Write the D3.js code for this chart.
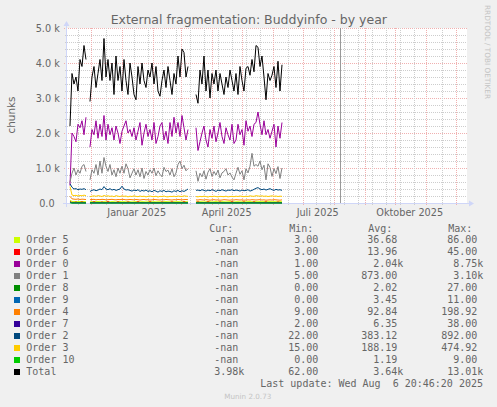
<!DOCTYPE html>
<html>
<head>
<meta charset="utf-8">
<script src="https://cdn.jsdelivr.net/npm/d3@7"></script>
<style>
    html, body { margin: 0; padding: 0; background: #f0f0f0; }
    svg { display: block; }
    text { font-family: "DejaVu Sans", sans-serif; fill: #666; }
    text.mono { font-family: "DejaVu Sans Mono", monospace; font-size: 10px; }
</style>
</head>
<body>
<svg id="chart" width="497" height="407"></svg>
<script>
// one sample every 2 days, first one on 2024-11-10
let firstSample = new Date(2024, 10, 10, 7)
let stepDays = 2

let total = [
    2200, 3700, 3400, 3600, 3200, 4100, 3900, 4500, 4100, null,
    2900, 3600, 3900, 3300, 3700, 4100, 3500, 4700, 3600, 4100,
    3500, 4000, 3100, 4200, 3500, 3900, 3200, 4100, 3500, 3100,
    4000, 3600, 3100, 2950, 3900, 3400, 4000, 3500, 3300, 3800,
    3600, 4000, 3400, 3900, 3200, 3050, 3500, 3800, 3300, 3900,
    3500, 3100, 3700, 3400, 4200, 3600, 4400, 4300, 3600, 3900,
    null, null, null,
    3100, 2850, 3800, 3400, 4200, 3200, 3800, 3000, 3700, 3400,
    3800, 3200, 3700, 3400, 3100, 3600, 3300, 3800, 3500, 3200,
    3700, 3100, 3900, 3500, 3200, 3850, 3900, 3650, 4100, 3750,
    4500, 4450, 3900, 4200, 3600, 2950, 3700, 3500, 3650, 3900,
    3300, 4050, 3200, 3950
]
let order0 = [
    500, 2000, 1900, 1750, 2250, 2150, 2350, 1950, 2450, null,
    1600, 2100, 1950, 2350, 1850, 2250, 1900, 2500, 1800, 2250,
    1950, 2150, 1800, 2200, 2000, 1700, 2050, 2200, 2350, 2000,
    2100, 1900, 2150, 1800, 2050, 2300, 1650, 2000, 2250, 1900,
    2100, 1800, 2300, 1700, 1900, 2200, 2300, 1800, 2050, 1700,
    2300, 1900, 2450, 2000, 2300, 1900, 2500, 2150, 1800, 2100,
    null, null, null,
    2150, 1500, 1750, 2000, 2200, 1800, 1600, 2100, 1850, 2200,
    1750, 2000, 2300, 1900, 1700, 2150, 1950, 1800, 2250, 1700,
    1800, 2250, 1950, 2100, 1650, 2350, 2050, 2200, 1900, 2250,
    2300, 2600, 2250, 1950, 2350, 1950, 2100, 1850, 2050, 2250,
    1600, 2200, 1850, 2300
]
let order1 = [
    600, 850, 1000, 800, 950, 850, 1050, 1100, 900, null,
    660, 950, 850, 1100, 800, 1200, 850, 1300, 1050, 900,
    1100, 800, 950, 750, 1000, 850, 1050, 850, 1120, 980,
    720, 850, 980, 800, 950, 750, 1000, 700, 900, 800,
    950, 850, 1000, 780, 920, 820, 750, 1020, 900, 940,
    800, 980, 750, 860, 1100, 1200, 980, 1080, 920, 980,
    null, null, null,
    920, 620, 850, 750, 920, 680, 880, 980, 760, 900,
    800, 940, 720, 860, 900, 980, 800, 860, 740, 660,
    850, 1020, 820, 920, 660, 980, 860, 1050, 1420, 1050,
    1100, 1050, 1200, 950, 1080, 660, 1120, 1020, 760, 980,
    840, 1040, 700, 1000
]
let order2 = [
    550, 450, 400, 410, 380, 400, 390, 410, 380, null,
    330, 360, 380, 350, 370, 400, 380, 470, 400, 380,
    410, 370, 390, 360, 380, 400, 480, 400, 370, 380,
    360, 340, 370, 350, 380, 330, 360, 340, 370, 330,
    350, 320, 360, 340, 310, 350, 330, 360, 320, 340,
    330, 310, 350, 330, 360, 320, 350, 330, 360, 400,
    null, null, null,
    360, 370, 350, 380, 360, 340, 370, 350, 380, 360,
    330, 370, 350, 380, 360, 340, 370, 360, 380, 350,
    370, 360, 340, 370, 350, 360, 380, 340, 360, 390,
    420, 440, 400, 380, 400, 370, 390, 410, 380, 360,
    390, 370, 380, 360
]
let order3 = [
    470, 230, 210, 220, 200, 215, 205, 225, 210, null,
    180, 195, 205, 190, 210, 200, 185, 215, 195, 205,
    190, 200, 180, 210, 195, 185, 205, 190, 200, 175,
    195, 185, 205, 190, 180, 200, 185, 195, 175, 190,
    200, 185, 180, 195, 170, 190, 185, 200, 180, 175,
    190, 185, 195, 180, 200, 190, 185, 205, 195, 190,
    null, null, null,
    185, 175, 190, 180, 195, 185, 170, 190, 180, 195,
    185, 175, 190, 185, 180, 195, 175, 185, 190, 180,
    195, 185, 200, 190, 180, 195, 185, 205, 195, 190,
    210, 200, 195, 205, 190, 200, 185, 195, 205, 190,
    200, 185, 195, 190
]
let order4 = [
    190, 120, 110, 105, 115, 100, 110, 105, 100, null,
    95, 100, 105, 90, 100, 95, 105, 100, 90, 95,
    100, 105, 95, 90, 100, 95, 105, 100, 90, 95,
    100, 95, 90, 100, 95, 85, 95, 100, 90, 95,
    85, 90, 100, 95, 90, 85, 95, 90, 100, 95,
    90, 85, 95, 90, 100, 95, 90, 95, 100, 95,
    null, null, null,
    90, 85, 95, 90, 85, 95, 90, 80, 90, 95,
    85, 90, 80, 85, 95, 90, 85, 80, 90, 85,
    95, 90, 85, 90, 80, 85, 90, 85, 95, 90,
    85, 90, 95, 85, 90, 80, 85, 90, 85, 95,
    90, 85, 80, 90
]
let order5 = [
    80, 45, 40, 35, 40, 45, 38, 42, 36, null,
    35, 40, 30, 38, 42, 36, 30, 40, 35, 38,
    32, 40, 36, 30, 38, 42, 35, 40, 32, 36,
    38, 30, 35, 40, 36, 32, 38, 35, 30, 36,
    40, 34, 38, 32, 36, 35, 30, 38, 40, 36,
    34, 32, 38, 36, 40, 35, 30, 36, 38, 35,
    null, null, null,
    36, 32, 38, 34, 30, 36, 38, 35, 32, 36,
    40, 34, 30, 38, 36, 32, 35, 38, 34, 30,
    36, 38, 32, 35, 36, 34, 38, 40, 36, 32,
    38, 35, 40, 36, 38, 34, 36, 40, 35, 38,
    36, 34, 38, 36
]
let order6 = [
    40, 15, 12, 30, 10, 14, 35, 12, 10, null,
    10, 12, 38, 14, 10, 12, 30, 11, 13, 40,
    12, 10, 14, 12, 35, 11, 13, 10, 12, 32,
    14, 10, 12, 11, 38, 13, 10, 12, 14, 11,
    36, 12, 10, 13, 12, 11, 30, 14, 12, 10,
    13, 34, 12, 11, 14, 10, 12, 38, 13, 12,
    null, null, null,
    12, 34, 11, 13, 10, 12, 36, 14, 11, 12,
    10, 13, 30, 12, 11, 14, 12, 10, 38, 13,
    12, 11, 14, 12, 32, 10, 12, 13, 11, 36,
    12, 14, 10, 12, 13, 34, 11, 12, 10, 14,
    12, 30, 13, 12
]
let order7 = [
    30, 8, 7, 6, 7, 6, 8, 7, 6, null,
    6, 7, 5, 6, 8, 6, 7, 5, 6, 7,
    6, 5, 7, 6, 8, 6, 5, 7, 6, 6,
    7, 5, 6, 8, 6, 7, 6, 5, 6, 7,
    6, 5, 7, 6, 6, 8, 6, 5, 7, 6,
    6, 7, 5, 6, 7, 6, 5, 6, 7, 6,
    null, null, null,
    6, 5, 7, 6, 6, 8, 6, 5, 7, 6,
    5, 6, 7, 6, 6, 5, 7, 6, 8, 6,
    5, 6, 7, 6, 5, 6, 7, 6, 6, 5,
    7, 6, 6, 8, 6, 5, 7, 6, 6, 5,
    7, 6, 6, 5
]
let order8 = [
    20, 3, 2, 2, 3, 2, 2, 1, 2, null,
    2, 2, 1, 2, 3, 2, 2, 1, 2, 2,
    3, 2, 1, 2, 2, 2, 3, 2, 1, 2,
    2, 3, 2, 2, 1, 2, 2, 2, 3, 2,
    1, 2, 2, 2, 1, 3, 2, 2, 1, 2,
    2, 3, 2, 2, 1, 2, 2, 3, 2, 2,
    null, null, null,
    2, 1, 2, 2, 3, 2, 2, 1, 2, 2,
    2, 3, 1, 2, 2, 2, 1, 2, 3, 2,
    2, 1, 2, 2, 2, 3, 2, 1, 2, 2,
    2, 1, 3, 2, 2, 2, 1, 2, 2, 3,
    2, 2, 1, 2
]
let order9 = [
    11, 4, 3, 4, 3, 4, 3, 4, 3, null,
    3, 4, 3, 4, 3, 3, 4, 3, 4, 3,
    4, 3, 3, 4, 3, 4, 3, 4, 3, 3,
    4, 3, 4, 3, 3, 4, 3, 4, 3, 3,
    4, 3, 4, 3, 3, 4, 3, 4, 3, 3,
    4, 3, 4, 3, 3, 4, 3, 4, 3, 3,
    null, null, null,
    4, 3, 3, 4, 3, 4, 3, 3, 4, 3,
    4, 3, 3, 4, 3, 4, 3, 3, 4, 3,
    4, 3, 3, 4, 3, 4, 3, 3, 4, 3,
    4, 3, 3, 4, 3, 4, 3, 3, 4, 3,
    4, 3, 3, 4
]
let order10 = [
    9, 1, 1, 2, 1, 1, 2, 1, 1, null,
    1, 1, 2, 1, 1, 1, 2, 1, 1, 1,
    2, 1, 1, 1, 1, 2, 1, 1, 1, 2,
    1, 1, 1, 1, 2, 1, 1, 2, 1, 1,
    1, 1, 2, 1, 1, 1, 2, 1, 1, 1,
    1, 2, 1, 1, 1, 2, 1, 1, 1, 1,
    null, null, null,
    1, 1, 2, 1, 1, 1, 2, 1, 1, 1,
    1, 2, 1, 1, 1, 2, 1, 1, 1, 1,
    2, 1, 1, 1, 2, 1, 1, 1, 1, 2,
    1, 1, 1, 2, 1, 1, 1, 1, 2, 1,
    1, 1, 2, 1
]

// legend order == draw order
let seriesNames = ['Order 5', 'Order 6', 'Order 0', 'Order 1', 'Order 8', 'Order 9',
    'Order 4', 'Order 7', 'Order 2', 'Order 3', 'Order 10', 'Total']
let seriesValues = [order5, order6, order0, order1, order8, order9,
    order4, order7, order2, order3, order10, total]
let seriesColors = ['#ccff00', '#ff0000', '#990099', '#808080', '#008f00', '#0066b3',
    '#ff8000', '#330099', '#00487d', '#ffcc00', '#00cc00', '#000000']
let curValues = ['-nan', '-nan', '-nan', '-nan', '-nan', '-nan',
    '-nan', '-nan', '-nan', '-nan', '-nan', '3.98k']
let minValues = ['3.00', '3.00', '1.00', '5.00', '0.00', '0.00',
    '9.00', '2.00', '22.00', '15.00', '0.00', '62.00']
let avgValues = ['36.68', '13.96', '2.04k', '873.00', '2.02', '3.45',
    '92.84', '6.35', '383.12', '188.19', '1.19', '3.64k']
let maxValues = ['86.00', '45.00', '8.75k', '3.10k', '27.00', '11.00',
    '198.92', '38.00', '892.00', '474.92', '9.00', '13.01k']

let yTicks = [0, 1000, 2000, 3000, 4000, 5000]
let yTickLabels = ['0.0', '1.0 k', '2.0 k', '3.0 k', '4.0 k', '5.0 k']
let monthLabels = ['Januar 2025', 'April 2025', 'Juli 2025', 'Oktober 2025']
let monthLabelDates = [new Date(2025, 0, 1), new Date(2025, 3, 1), new Date(2025, 6, 1), new Date(2025, 9, 1)]
let lastUpdate = new Date(2025, 7, 6, 20, 46, 20)

let xStart = new Date(2024, 10, 7, 7, 12)
let xEnd = d3.timeDay.offset(xStart, 400)

let svg = d3.select('#chart')
let plot = {left: 67, right: 467, top: 28, bottom: 203}

let x = d3.scaleTime().domain([xStart, xEnd]).range([plot.left, plot.right])
let y = d3.scaleLinear().domain([0, 5000]).range([plot.bottom, plot.top])

let axisColor = '#cfd6f8'
let minorColor = '#cdcdcd'
let majorColor = '#f0b0b0'

svg.append('rect')
    .attr('x', plot.left).attr('y', plot.top)
    .attr('width', plot.right - plot.left).attr('height', plot.bottom - plot.top)
    .attr('fill', '#fff')

// grid
let grid = svg.append('g').attr('stroke-dasharray', '1,1').attr('shape-rendering', 'crispEdges')
let minorY = d3.range(200, 5000, 200).filter(v => v % 1000 !== 0)
grid.selectAll('line.minor-y').data(minorY).enter().append('line')
    .attr('x1', plot.left - 2).attr('x2', plot.right)
    .attr('y1', d => Math.round(y(d)) + 0.5).attr('y2', d => Math.round(y(d)) + 0.5)
    .attr('stroke', minorColor)
grid.selectAll('line.major-y').data(yTicks.slice(1)).enter().append('line')
    .attr('x1', plot.left - 3).attr('x2', plot.right)
    .attr('y1', d => Math.round(y(d)) + 0.5).attr('y2', d => Math.round(y(d)) + 0.5)
    .attr('stroke', majorColor)

// major lines on month starts, minor ones every second monday
let months = d3.timeMonth.range(xStart, xEnd)
let refMonday = new Date(2025, 7, 11)
let weeks = d3.timeMonday.range(xStart, xEnd)
    .filter(w => Math.abs(Math.round((w - refMonday) / (7 * 864e5))) % 2 === 0)
    .filter(w => !months.some(m => Math.abs(x(m) - x(w)) < 2.5))
grid.selectAll('line.minor-x').data(weeks).enter().append('line')
    .attr('x1', d => Math.round(x(d)) + 0.5).attr('x2', d => Math.round(x(d)) + 0.5)
    .attr('y1', plot.top).attr('y2', plot.bottom + 2)
    .attr('stroke', minorColor)
grid.selectAll('line.major-x').data(months).enter().append('line')
    .attr('x1', d => Math.round(x(d)) + 0.5).attr('x2', d => Math.round(x(d)) + 0.5)
    .attr('y1', plot.top).attr('y2', plot.bottom + 3)
    .attr('stroke', majorColor)

// "now" marker
svg.append('line')
    .attr('x1', Math.round(x(lastUpdate)) + 0.5).attr('x2', Math.round(x(lastUpdate)) + 0.5)
    .attr('y1', plot.top).attr('y2', plot.bottom)
    .attr('stroke', '#999').attr('shape-rendering', 'crispEdges')

// axes
let axes = svg.append('g').attr('shape-rendering', 'crispEdges')
axes.append('line')
    .attr('x1', plot.left - 4).attr('x2', plot.right + 3)
    .attr('y1', plot.bottom + 0.5).attr('y2', plot.bottom + 0.5)
    .attr('stroke', axisColor)
axes.append('line')
    .attr('x1', plot.left - 0.5).attr('x2', plot.left - 0.5)
    .attr('y1', plot.bottom + 4).attr('y2', plot.top - 3)
    .attr('stroke', axisColor)
svg.append('path')
    .attr('d', `M${plot.right + 2},${plot.bottom - 2.5}L${plot.right + 7},${plot.bottom + 0.5}L${plot.right + 2},${plot.bottom + 3.5}Z`)
    .attr('fill', axisColor)
svg.append('path')
    .attr('d', `M${plot.left - 3.5},${plot.top - 2}L${plot.left - 0.5},${plot.top - 7}L${plot.left + 2.5},${plot.top - 2}Z`)
    .attr('fill', axisColor)

// tick labels
svg.selectAll('text.ytick').data(yTicks).enter().append('text')
    .attr('class', 'ytick')
    .attr('x', (d, i) => i === 0 ? 54.6 : 59.8)
    .attr('y', d => y(d) + 3.6)
    .attr('text-anchor', 'end')
    .attr('font-size', '9.7px')
    .text((d, i) => yTickLabels[i])

svg.selectAll('text.xtick').data(monthLabelDates).enter().append('text')
    .attr('class', 'xtick')
    .attr('x', d => x(d3.timeDay.offset(d, 15)))
    .attr('y', 216)
    .attr('text-anchor', 'middle')
    .attr('font-size', '9.7px')
    .text((d, i) => monthLabels[i])

// series
let line = d3.line()
    .defined(d => d.v !== null)
    .x(d => x(d.t))
    .y(d => y(d.v))

seriesValues.forEach((values, i) => {
    let points = values.map((v, j) => ({t: d3.timeDay.offset(firstSample, j * stepDays), v: v}))
    svg.append('path')
        .datum(points)
        .attr('d', line)
        .attr('fill', 'none')
        .attr('stroke', seriesColors[i])
        .attr('stroke-width', 1)
})

// titles
svg.append('text')
    .attr('x', 248.8).attr('y', 24)
    .attr('text-anchor', 'middle')
    .attr('font-size', '12.5px')
    .text('External fragmentation: Buddyinfo - by year')

svg.append('text')
    .attr('transform', 'translate(15,115) rotate(-90)')
    .attr('text-anchor', 'middle')
    .attr('font-size', '10.4px')
    .text('chunks')

svg.append('text')
    .attr('transform', 'translate(485,5) rotate(90)')
    .attr('font-size', '7.3px')
    .style('fill', '#c4c4c4')
    .text('RRDTOOL / TOBI OETIKER')

// legend
let colCur = 238.3, colMin = 318.3, colAvg = 397.3, colMax = 477.3
let headerY = 231.5
let headers = [['Cur:', colCur], ['Min:', colMin], ['Avg:', colAvg], ['Max:', colMax]]
headers.forEach(h => {
    svg.append('text').attr('class', 'mono')
        .attr('x', h[1] - 5).attr('y', headerY)
        .attr('text-anchor', 'end')
        .text(h[0])
})

function valueText(s, col, rowY) {
    svg.append('text').attr('class', 'mono')
        .attr('x', s.endsWith('k') ? col + 6.02 : col)
        .attr('y', rowY)
        .attr('text-anchor', 'end')
        .text(s)
}

seriesNames.forEach((name, i) => {
    let rowY = 243.3 + i * 12
    svg.append('rect')
        .attr('x', 14).attr('y', rowY - 6.3)
        .attr('width', 6).attr('height', 6)
        .attr('fill', seriesColors[i])
    svg.append('text').attr('class', 'mono')
        .attr('x', 26.3).attr('y', rowY)
        .text(name)
    valueText(curValues[i], colCur, rowY)
    valueText(minValues[i], colMin, rowY)
    valueText(avgValues[i], colAvg, rowY)
    valueText(maxValues[i], colMax, rowY)
})

svg.append('text').attr('class', 'mono')
    .attr('x', 483).attr('y', 387.3)
    .attr('text-anchor', 'end')
    .attr('xml:space', 'preserve')
    .style('white-space', 'pre')
    .text('Last update: Wed Aug  6 20:46:20 2025')

svg.append('text')
    .attr('x', 247.8).attr('y', 398.8)
    .attr('text-anchor', 'middle')
    .attr('font-size', '7.2px')
    .style('fill', '#c4c4c4')
    .text('Munin 2.0.73')
</script>
</body>
</html>
